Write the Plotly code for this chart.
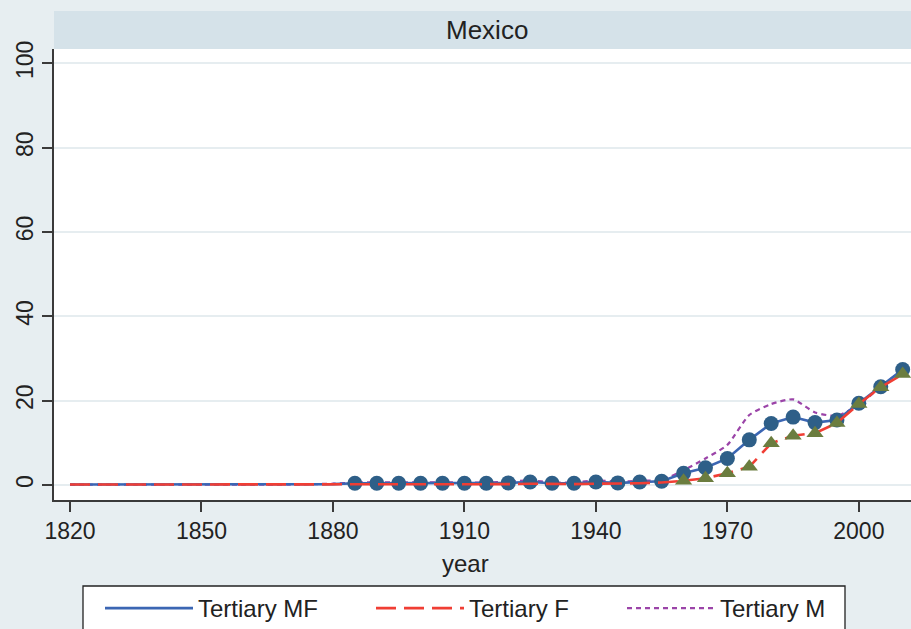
import plotly.graph_objects as go

years = list(range(1820, 2011, 5))
# Tertiary MF (both sexes)
mf = [0.1, 0.1, 0.1, 0.1, 0.1, 0.1, 0.1, 0.1, 0.1, 0.1, 0.1, 0.2, 0.2,
      0.4, 0.4, 0.4, 0.4, 0.4, 0.4, 0.4, 0.5, 0.7, 0.4, 0.4, 0.7, 0.5, 0.7, 0.9,
      2.8, 4.1, 6.3, 10.7, 14.6, 16.1, 14.8, 15.4, 19.4, 23.3, 27.4]
# Tertiary F
f = [0.1, 0.1, 0.1, 0.1, 0.1, 0.1, 0.1, 0.1, 0.1, 0.1, 0.1, 0.1, 0.1,
     0.1, 0.1, 0.1, 0.1, 0.1, 0.2, 0.2, 0.2, 0.3, 0.2, 0.2, 0.3, 0.3, 0.4, 0.6,
     1.0, 1.6, 2.8, 4.3, 9.9, 11.7, 12.3, 14.7, 19.2, 23.2, 26.3]
# Tertiary M
m = [0.1, 0.1, 0.1, 0.1, 0.1, 0.1, 0.1, 0.1, 0.1, 0.1, 0.1, 0.2, 0.3,
     0.6, 0.6, 0.6, 0.6, 0.6, 0.6, 0.6, 0.8, 1.1, 0.6, 0.6, 1.1, 0.8, 1.0, 1.2,
     3.5, 6.3, 9.5, 16.6, 19.2, 20.3, 17.2, 16.4, 19.0, 23.3, 27.3]

mf_marker_start = 1885
f_marker_start = 1960

mf_mx = [y for y in years if y >= mf_marker_start]
mf_my = [v for y, v in zip(years, mf) if y >= mf_marker_start]
f_mx = [y for y in years if y >= f_marker_start]
f_my = [v for y, v in zip(years, f) if y >= f_marker_start]

x_ticks = [1820, 1850, 1880, 1910, 1940, 1970, 2000]
y_ticks = [0, 20, 40, 60, 80, 100]

FONT = "Liberation Sans, Arial, sans-serif"
BG = "#e7eef1"
STRIP = "#d5e2e9"
GRID = "#e6edf0"
AX = "#3a3a3a"
TXT = "#222222"

W, H = 911, 629
ML, MT, MB = 54, 49, 129
PW = W - ML
PH = H - MT - MB


def px_x(px):
    return (px - ML) / PW


def px_y(py):
    return (MT + PH - py) / PH


fig = go.Figure()
fig.add_trace(go.Scatter(x=years, y=m, mode="lines", name="Tertiary M", legend="legend3",
                         line=dict(color="#9b44a8", width=2.2, dash="5px,4px", shape="spline", smoothing=0.6)))
fig.add_trace(go.Scatter(x=years, y=mf, mode="lines", name="Tertiary MF", legend="legend",
                         line=dict(color="#3b66b3", width=2.6)))
fig.add_trace(go.Scatter(x=mf_mx, y=mf_my, mode="markers", showlegend=False,
                         marker=dict(symbol="circle", size=15, color="#2e5f88")))
fig.add_trace(go.Scatter(x=years, y=f, mode="lines", name="Tertiary F", legend="legend2",
                         line=dict(color="#f03e34", width=2.6, dash="20px,8px")))
fig.add_trace(go.Scatter(x=f_mx, y=f_my, mode="markers", showlegend=False,
                         marker=dict(symbol="triangle-up", size=15, color="#6b7d3f")))

leg_common = dict(orientation="h", xanchor="left", yanchor="top", y=px_y(586),
                  bgcolor="rgba(0,0,0,0)", borderwidth=0, itemwidth=88,
                  font=dict(family=FONT, size=24, color=TXT))

fig.update_layout(
    width=W, height=H,
    margin=dict(l=ML, r=0, t=MT, b=MB, autoexpand=False),
    paper_bgcolor=BG, plot_bgcolor="white",
    font=dict(family=FONT, size=23, color=TXT),
    showlegend=True,
    legend=dict(x=px_x(100), **leg_common),
    legend2=dict(x=px_x(371), **leg_common),
    legend3=dict(x=px_x(622), **leg_common),
    shapes=[
        dict(type="rect", xref="paper", yref="paper", x0=0, x1=1.05,
             y0=1.0, y1=px_y(11), fillcolor=STRIP, line=dict(width=0), layer="below"),
        dict(type="rect", xref="paper", yref="paper", x0=px_x(83), x1=px_x(845),
             y0=px_y(586), y1=px_y(640), fillcolor="white", line=dict(color=TXT, width=1.3),
             layer="below"),
    ],
    annotations=[
        dict(text="Mexico", xref="paper", yref="paper", x=px_x(487), y=px_y(30),
             xanchor="center", yanchor="middle", showarrow=False,
             font=dict(family=FONT, size=26, color=TXT)),
        dict(text="year", xref="paper", yref="paper", x=px_x(465), y=px_y(563),
             xanchor="center", yanchor="middle", showarrow=False,
             font=dict(family=FONT, size=24, color=TXT)),
    ],
)

fig.update_xaxes(range=[1816.35, 2011.9], tickvals=x_ticks, ticktext=[str(t) for t in x_ticks],
                 showgrid=False, zeroline=False, showline=True, linecolor=AX, linewidth=1.5,
                 ticks="outside", ticklen=10, tickwidth=1.5, tickcolor=AX,
                 tickfont=dict(family=FONT, size=23, color=TXT))
fig.update_yaxes(range=[-3.56, 103.4], tickvals=y_ticks, ticktext=[str(t) for t in y_ticks],
                 showgrid=True, gridcolor=GRID, gridwidth=2, zeroline=False,
                 showline=True, linecolor=AX, linewidth=1.5,
                 ticks="outside", ticklen=10, tickwidth=1.5, tickcolor=AX, tickangle=-90,
                 tickfont=dict(family=FONT, size=23, color=TXT))

fig.write_html("out.html", config={"displayModeBar": False},
               post_script="document.body.style.margin='0';document.body.style.overflow='hidden';")
